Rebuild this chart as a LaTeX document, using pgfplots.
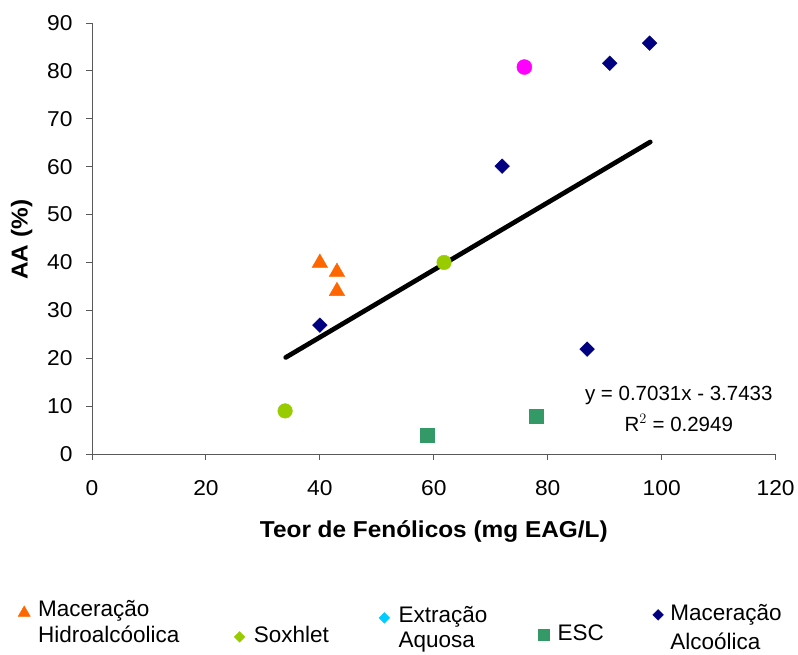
\documentclass[border=0pt]{standalone}
\usepackage{pgfplots}
\pgfplotsset{compat=1.18}
\usepackage{fontspec}
\setmainfont{Liberation Sans}
\newfontfamily\widefont[FakeStretch=1.06]{Liberation Sans}
\definecolor{cOrange}{HTML}{FF6600}
\definecolor{cLime}{HTML}{99CC00}
\definecolor{cCyan}{HTML}{00CCFF}
\definecolor{cESC}{HTML}{339966}
\definecolor{cNavy}{HTML}{000080}
\definecolor{cMag}{HTML}{FF00FF}
\definecolor{axisgray}{HTML}{595959}
\pgfplotsset{
  shiftimg/.style={legend image code/.code={\draw[##1] plot coordinates {(0pt,#1)};}}
}
\newcommand{\legfont}[1]{\fontsize{22.5}{#1}\selectfont}
\begin{document}
\begin{tikzpicture}[x=1pt,y=1pt]
\path[use as bounding box] (0,0) rectangle (798,654);
\begin{axis}[
  at={(92pt,200pt)}, anchor=south west,
  scale only axis, width=683.6pt, height=431pt,
  xmin=0, xmax=120, ymin=0, ymax=90,
  xtick={0,20,...,120}, ytick={0,10,...,90},
  axis x line*=bottom, axis y line*=left,
  axis line style={color=axisgray, line width=0.9pt, -},
  tick style={color=axisgray, line width=0.9pt},
  tick align=outside, major tick length=6pt,
  /pgf/number format/assume math mode=true,
  ticklabel style={font=\widefont\fontsize{21.5}{25}\selectfont},
  xticklabel style={yshift=-17pt},
  yticklabel style={xshift=-10pt},
  xlabel={\textbf{Teor de Fenólicos (mg EAG/L)}},
  ylabel={\textbf{AA (\%)}},
  label style={font=\widefont\fontsize{23}{27}\selectfont},
  xlabel style={at={(rel axis cs:0.5,-0.18)}, anchor=center},
  ylabel style={at={(rel axis cs:-0.103,0.497)}, anchor=center},
  clip=false,
  legend columns=5,
  legend style={at={(rel axis cs:-0.1083,-0.340)}, anchor=north west,
    draw=none, fill=none, inner sep=0pt, column sep=0pt,
    nodes={inner sep=0pt}, cells={anchor=base west}},
]
% data series
\addplot[only marks, mark=triangle*, color=cOrange, mark size=9pt, forget plot]
  coordinates {(40,39.9) (43,38.0) (43,34.0)};
\addplot[only marks, mark=*, color=cLime, mark size=7.3pt, forget plot]
  coordinates {(33.9,9.0) (61.8,40.0)};
\addplot[only marks, mark=square*, color=cESC, mark size=7pt, forget plot]
  coordinates {(58.9,3.9) (77.9,7.9)};
\addplot[only marks, mark=square*, mark options={rotate=45}, color=cNavy, mark size=5.2pt, forget plot]
  coordinates {(40,26.9) (72,60.1) (90.9,81.6) (97.9,85.8) (86.9,21.9)};
\addplot[only marks, mark=*, color=cMag, mark size=7.5pt, forget plot]
  coordinates {(75.9,80.8)};
% trend line
\addplot[black, line width=4.7pt, line cap=round, forget plot]
  coordinates {(34,20.16) (98,65.16)};
\node[align=center, font=\fontsize{20.5}{31}\selectfont] at (axis cs:103,9.5)
  {y = 0.7031x - 3.7433\\R$^{2}$ = 0.2949};
% legend
\addlegendimage{only marks, mark=triangle*, color=cOrange, mark size=7pt, shiftimg=4pt}
\addlegendentry{\hspace{7.9pt}\parbox[t]{196pt}{\legfont{26}Maceração\\Hidroalcóolica}}
\addlegendimage{only marks, mark=square*, mark options={rotate=45}, color=cLime, mark size=3.8pt, shiftimg=-20pt}
\addlegendentry{\hspace{9pt}\raisebox{-26pt}{\parbox[t]{125pt}{\legfont{26}Soxhlet}}}
\addlegendimage{only marks, mark=square*, mark options={rotate=45}, color=cCyan, mark size=3.8pt, shiftimg=-1pt}
\addlegendentry{\hspace{9pt}\raisebox{-6pt}{\parbox[t]{139.5pt}{\legfont{25}Extração\\Aquosa}}}
\addlegendimage{only marks, mark=square*, color=cESC, mark size=5.5pt, shiftimg=-18pt}
\addlegendentry{\hspace{8.5pt}\raisebox{-24pt}{\parbox[t]{95pt}{\legfont{26}ESC}}}
\addlegendimage{only marks, mark=square*, mark options={rotate=45}, color=cNavy, mark size=3.8pt, shiftimg=2pt}
\addlegendentry{\hspace{7pt}\raisebox{-4pt}{\parbox[t]{120pt}{\legfont{29}Maceração\\Alcoólica}}}
\end{axis}
\end{tikzpicture}
\end{document}
